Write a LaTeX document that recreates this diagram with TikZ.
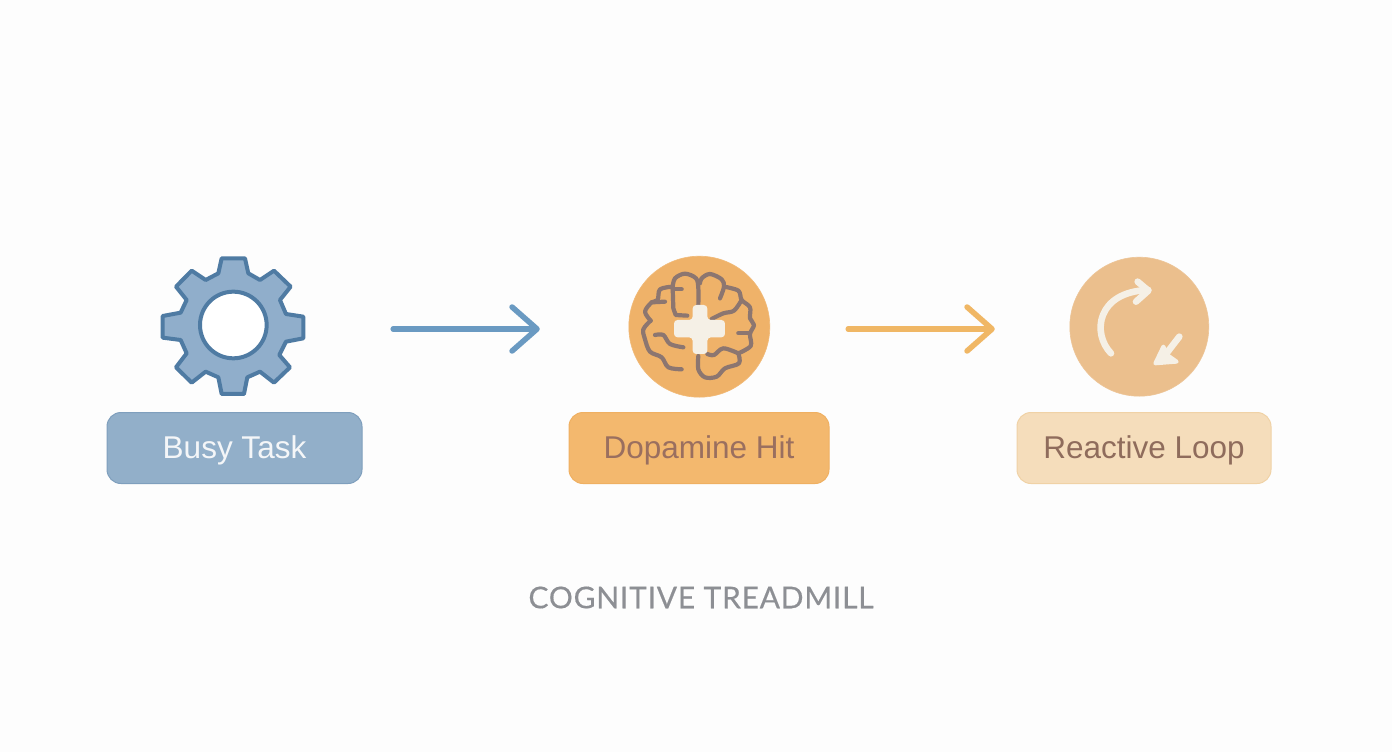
\documentclass[tikz,border=0pt]{standalone}
\usepackage{fontspec}
\setmainfont{Liberation Sans}
\newfontfamily\titlefont[LetterSpace=2.5,FakeBold=0.4]{Lato}
\usetikzlibrary{arrows.meta}
\definecolor{bgc}{HTML}{FDFDFD}
\definecolor{gearfill}{HTML}{90AECB}
\definecolor{gearline}{HTML}{4F7BA3}
\definecolor{bluearrow}{HTML}{6A9AC2}
\definecolor{orangearrow}{HTML}{F0B765}
\definecolor{brainfill}{HTML}{EFB269}
\definecolor{brainline}{HTML}{8C7670}
\definecolor{cream}{HTML}{F5F0E6}
\definecolor{busytext}{HTML}{F4F6F8}
\definecolor{loopfill}{HTML}{EBBF8D}
\definecolor{busyfill}{HTML}{92AFC9}
\definecolor{busyedge}{HTML}{7F9FBD}
\definecolor{dopfill}{HTML}{F3B86E}
\definecolor{dopedge}{HTML}{EFB062}
\definecolor{reactfill}{HTML}{F5DDBB}
\definecolor{reactedge}{HTML}{F0D2A6}
\definecolor{doptext}{HTML}{9A6F5F}
\definecolor{reacttext}{HTML}{8F6C5C}
\definecolor{titletext}{HTML}{8D8F94}
\tikzset{
  x=1pt,y=-1pt,
  labelbox/.style={rounded corners=14pt,minimum height=71pt,inner sep=0pt,line width=1pt,text height=23pt,text depth=3pt,font=\fontsize{31.5}{36}\selectfont},
  anchorpt/.style={inner sep=0pt,minimum size=0pt},
  flow/.style={line width=5.5pt,line cap=round,line join=round,-{Straight Barb[round,length=25pt,width=44pt,line width=5.5pt]}},
  brainstroke/.style={draw=brainline,line width=4.2pt,line cap=round,line join=round},
  loopstroke/.style={draw=cream,line width=6.6pt,line cap=round,line join=round},
}
\begin{document}
\begin{tikzpicture}
\useasboundingbox[fill=bgc] (0,0) rectangle (1392,752);

% gear
\begin{scope}[shift={(140,240)},x=0.3333pt,y=-0.3333pt]
  \draw[fill=gearfill,draw=gearline,line width=4pt,line join=round]
    (245,55)--(315,55)--(325,100)--(360,120)--(402,92)--(452,140)--(420,180)--(438,222)--(490,230)--(490,295)--(438,305)--(418,345)--(450,382)--(402,428)--(360,395)--(322,412)--(312,462)--(245,462)--(235,412)--(197,395)--(155,428)--(108,382)--(140,340)--(122,300)--(68,293)--(68,228)--(122,218)--(140,180)--(108,140)--(155,92)--(197,120)--(235,100)--cycle;
  \draw[fill=white,draw=gearline,line width=4pt] (280,255) circle[radius=100];
\end{scope}

% brain circle
\node[circle,fill=brainfill,draw=brainfill!90!white,line width=.6pt,minimum size=141pt,inner sep=0pt] (braincircle) at (699.3,326.7) {};
\begin{scope}[shift={(610,250)},x=0.3333pt,y=-0.3333pt]
  \draw[brainstroke] plot[smooth,tension=.55] coordinates {(215,358)(175,352)(155,322)(120,305)(105,268)(100,238)(122,212)};
  \draw[brainstroke] plot[smooth,tension=.55] coordinates {(122,212)(105,185)(125,157)(143,150)(150,118)(188,110)};
  \draw[brainstroke] plot[smooth,tension=.55] coordinates {(188,112)(195,85)(225,71)(258,85)(265,115)(265,165)};
  \draw[brainstroke] plot[smooth,tension=.55] coordinates {(270,100)(275,85)(300,72)(335,88)(342,110)(330,145)};
  \draw[brainstroke] plot[smooth,tension=.55] coordinates {(342,110)(385,122)(395,150)(420,172)(420,205)(432,225)(420,252)(422,288)(385,310)};
  \draw[brainstroke] plot[smooth,tension=.55] coordinates {(385,310)(387,340)(345,355)(320,380)(285,382)(265,358)(265,318)};
  \draw[brainstroke] (188,112)--(190,175)--(197,195)--(232,197);
  \draw[brainstroke] (188,118)--(215,118);
  \draw[brainstroke] (125,157)--(165,155);
  \draw[brainstroke] plot[smooth,tension=.55] coordinates {(135,255)(160,255)(180,282)(220,292)};
  \draw[brainstroke] plot[smooth,tension=.55] coordinates {(292,312)(312,315)(340,295)(385,310)};
  \draw[brainstroke] (385,250)--(420,250);
  \draw[brainstroke] plot[smooth,tension=.55] coordinates {(305,207)(340,190)(372,182)(395,150)};
  \fill[cream,rounded corners=3.5pt] (248,165)--(292,165)--(292,210)--(345,210)--(345,262)--(292,262)--(292,312)--(248,312)--(248,262)--(192,262)--(192,210)--(248,210)--cycle;
\end{scope}

% loop circle
\node[circle,fill=loopfill,draw=loopfill!90!white,line width=.6pt,minimum size=139pt,inner sep=0pt] (loopcircle) at (1139.3,326.7) {};
\begin{scope}[shift={(1050,250)},x=0.3333pt,y=-0.3333pt]
  \draw[loopstroke] (183,310) .. controls (125,250) and (140,125) .. (295,120);
  \draw[loopstroke] (263,95)--(295,122)--(258,155);
  \draw[loopstroke] (388,260)--(348,312);
  \fill[cream,draw=cream,line width=4pt,line join=round] (340,290)--(316,340)--(380,335)--(356,318)--cycle;
\end{scope}

% labels
\node[labelbox,fill=busyfill,draw=busyedge,minimum width=255pt,text=busytext] (busy) at (234.5,448) {Busy Task};
\node[labelbox,fill=dopfill,draw=dopedge,minimum width=260pt,text=doptext] (dopamine) at (699,448) {Dopamine Hit};
\node[labelbox,fill=reactfill,draw=reactedge,minimum width=254pt,text=reacttext] (reactive) at (1144,448) {Reactive Loop};

% connectors
\node[anchorpt] (gearport) at (233,329) {};
\node[anchorpt] (brainport) at (699,329) {};
\node[anchorpt] (loopport) at (1139,329) {};
\draw[flow,draw=bluearrow,shorten <=160pt,shorten >=159pt] (gearport) -- (brainport);
\draw[flow,draw=orangearrow,shorten <=149pt,shorten >=144pt] (brainport) -- (loopport);

\node[font=\titlefont\fontsize{30}{34}\selectfont,text=titletext] (title) at (701,597.5) {COGNITIVE TREADMILL};
\end{tikzpicture}
\end{document}
